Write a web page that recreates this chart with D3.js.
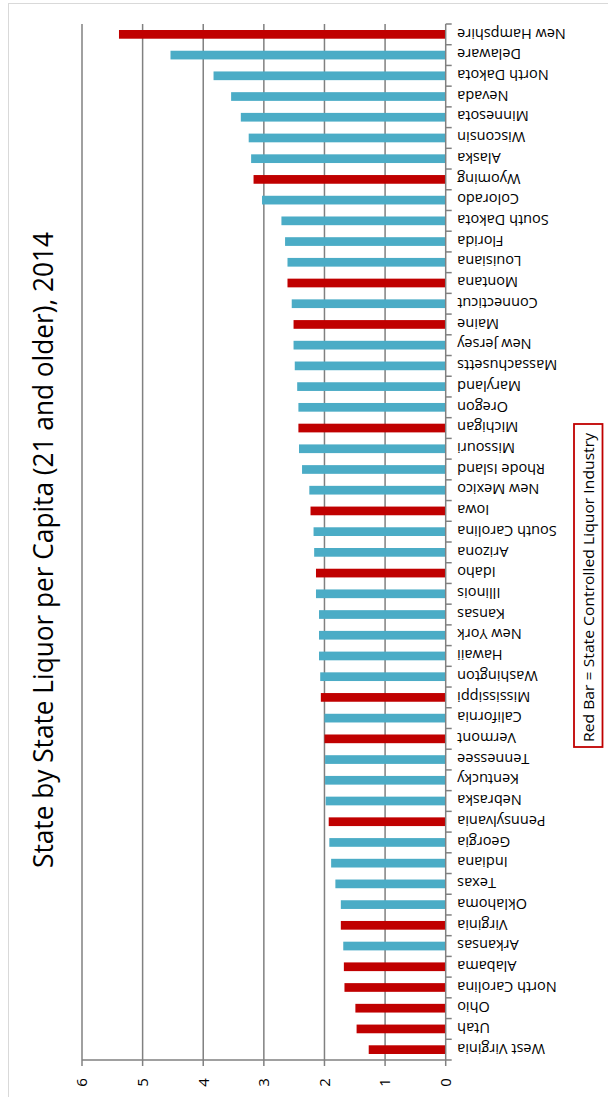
<!DOCTYPE html>
<html>
<head>
<meta charset="utf-8">
<script src="https://cdn.jsdelivr.net/npm/d3@7/dist/d3.min.js"></script>
<style>
  html, body { margin: 0; padding: 0; background: #fff; }
  svg { display: block; }
  text { font-family: "Open Sans", "Noto Sans", sans-serif; fill: #000; }
</style>
</head>
<body>
<svg id="chart" width="608" height="1097"></svg>
<script>
// States ordered from highest to lowest consumption (gallons of spirits per adult 21+)
const states = [
  "New Hampshire", "Delaware", "North Dakota", "Nevada", "Minnesota",
  "Wisconsin", "Alaska", "Wyoming", "Colorado", "South Dakota",
  "Florida", "Louisiana", "Montana", "Connecticut", "Maine",
  "New Jersey", "Massachusetts", "Maryland", "Oregon", "Michigan",
  "Missouri", "Rhode Island", "New Mexico", "Iowa", "South Carolina",
  "Arizona", "Idaho", "Illinois", "Kansas", "New York",
  "Hawaii", "Washington", "Mississippi", "California", "Vermont",
  "Tennessee", "Kentucky", "Nebraska", "Pennsylvania", "Georgia",
  "Indiana", "Texas", "Oklahoma", "Virginia", "Arkansas",
  "Alabama", "North Carolina", "Ohio", "Utah", "West Virginia"
];

const liquorPerCapita = [
  5.39, 4.54, 3.83, 3.54, 3.38,
  3.25, 3.21, 3.17, 3.03, 2.71,
  2.65, 2.61, 2.61, 2.54, 2.51,
  2.51, 2.49, 2.45, 2.43, 2.43,
  2.42, 2.37, 2.25, 2.23, 2.18,
  2.17, 2.14, 2.14, 2.09, 2.09,
  2.09, 2.07, 2.06, 2.00, 2.00,
  1.99, 1.99, 1.98, 1.93, 1.92,
  1.89, 1.82, 1.73, 1.73, 1.69,
  1.68, 1.67, 1.49, 1.47, 1.27
];

// States where the state government controls liquor sales
const controlStates = [
  "New Hampshire", "Wyoming", "Montana", "Maine", "Michigan",
  "Iowa", "Idaho", "Mississippi", "Vermont", "Pennsylvania",
  "Virginia", "Alabama", "North Carolina", "Ohio", "Utah", "West Virginia"
];

const valueTicks = [0, 1, 2, 3, 4, 5, 6];

const titleText = "State by State Liquor per Capita (21 and older), 2014";
const legendText = "Red Bar = State Controlled Liquor Industry";

const RED = "#C00000";
const BLUE = "#4BACC6";
const GRID = "#808080";

const data = states.map((s, i) => ({ state: s, value: liquorPerCapita[i], control: controlStates.includes(s) }));

const svg = d3.select("#chart");

// outer frame
svg.append("rect")
  .attr("x", 8.5).attr("y", 3.5)
  .attr("width", 700).attr("height", 1200)
  .attr("fill", "none").attr("stroke", "#d9d9d9").attr("stroke-width", 1);

// value runs right-to-left, categories top-to-bottom
const x = d3.scaleLinear().domain([0, 6]).range([445.7, 82]);
const y = d3.scaleBand().domain(states).range([24, 1060]).paddingInner(0.58).paddingOuter(0.29);

const plotTop = y.range()[0], plotBottom = y.range()[1];

// gridlines
svg.append("g").selectAll("line")
  .data(valueTicks.filter(t => t > 0))
  .join("line")
  .attr("x1", d => x(d)).attr("x2", d => x(d))
  .attr("y1", plotTop).attr("y2", plotBottom)
  .attr("stroke", GRID).attr("stroke-width", 1.5);

// bars
svg.append("g").selectAll("rect")
  .data(data)
  .join("rect")
  .attr("x", d => x(d.value))
  .attr("y", d => y(d.state))
  .attr("width", d => x(0) - x(d.value))
  .attr("height", y.bandwidth())
  .attr("fill", d => d.control ? RED : BLUE);

// category axis line with ticks at band boundaries
const catAxis = svg.append("g");
catAxis.append("line")
  .attr("x1", x(0)).attr("x2", x(0))
  .attr("y1", plotTop).attr("y2", plotBottom)
  .attr("stroke", GRID).attr("stroke-width", 1.5);
const step = y.step();
catAxis.selectAll("line.tick")
  .data(d3.range(states.length + 1))
  .join("line")
  .attr("class", "tick")
  .attr("x1", x(0)).attr("x2", x(0) + 6)
  .attr("y1", i => plotTop + i * step).attr("y2", i => plotTop + i * step)
  .attr("stroke", GRID).attr("stroke-width", 1.5);

// state labels, drawn upside down
catAxis.selectAll("text")
  .data(states)
  .join("text")
  .attr("transform", d => `translate(${x(0) + 11.5},${y(d) + y.bandwidth() / 2}) rotate(180)`)
  .attr("text-anchor", "end")
  .attr("dy", "0.4em")
  .attr("font-size", 14.5)
  .text(d => d);

// value axis along the bottom
const valAxis = svg.append("g");
valAxis.append("line")
  .attr("x1", x(6)).attr("x2", x(0))
  .attr("y1", plotBottom).attr("y2", plotBottom)
  .attr("stroke", GRID).attr("stroke-width", 1.5);
valAxis.selectAll("line.tick")
  .data(valueTicks)
  .join("line")
  .attr("class", "tick")
  .attr("x1", d => x(d)).attr("x2", d => x(d))
  .attr("y1", plotBottom).attr("y2", plotBottom + 6)
  .attr("stroke", GRID).attr("stroke-width", 1.5);
valAxis.selectAll("text")
  .data(valueTicks)
  .join("text")
  .attr("transform", d => `translate(${x(d)},${plotBottom + 22.5}) rotate(-90)`)
  .attr("text-anchor", "middle")
  .attr("dy", "0.36em")
  .attr("font-size", 15)
  .text(d => d3.format("d")(d));

// title, reading bottom to top
svg.append("text")
  .attr("transform", "translate(53,550) rotate(-90)")
  .attr("text-anchor", "middle")
  .attr("font-size", 28)
  .attr("textLength", 636)
  .attr("lengthAdjust", "spacingAndGlyphs")
  .text(titleText);

// legend note
const legend = svg.append("g");
legend.append("rect")
  .attr("x", 574).attr("y", 424)
  .attr("width", 28.5).attr("height", 323)
  .attr("fill", "#fff").attr("stroke", RED).attr("stroke-width", 1.8);
legend.append("text")
  .attr("transform", "translate(588.5,587.5) rotate(-90)")
  .attr("text-anchor", "middle")
  .attr("dy", "0.36em")
  .attr("font-size", 15)
  .attr("textLength", 309)
  .attr("lengthAdjust", "spacingAndGlyphs")
  .text(legendText);
</script>
</body>
</html>
